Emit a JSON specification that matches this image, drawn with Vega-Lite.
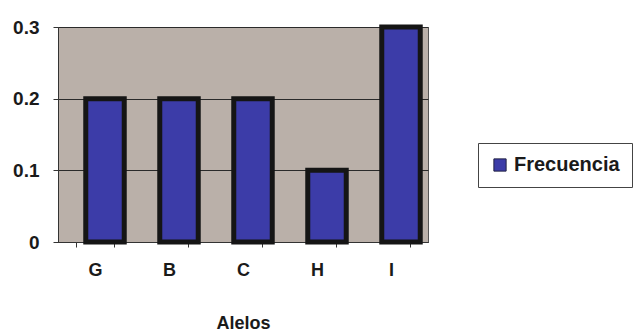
{
  "$schema": "https://vega.github.io/schema/vega-lite/v6.json",
  "autosize": "none",
  "width": 370,
  "height": 215,
  "padding": {"left": 58, "top": 27, "right": 215, "bottom": 92},
  "background": "#ffffff",
  "config": {
    "font": "Liberation Sans",
    "view": {"fill": "#bab0a9", "stroke": "#555555", "strokeWidth": 1}
  },
  "data": {
    "values": [
      {"alelo": "G", "frecuencia": 0.2, "serie": "Frecuencia"},
      {"alelo": "B", "frecuencia": 0.2, "serie": "Frecuencia"},
      {"alelo": "C", "frecuencia": 0.2, "serie": "Frecuencia"},
      {"alelo": "H", "frecuencia": 0.1, "serie": "Frecuencia"},
      {"alelo": "I", "frecuencia": 0.3, "serie": "Frecuencia"}
    ]
  },
  "mark": {"type": "bar", "stroke": "#151515", "strokeWidth": 5, "xOffset": 10},
  "encoding": {
    "x": {
      "field": "alelo",
      "type": "nominal",
      "sort": null,
      "scale": {"paddingInner": 0.48, "paddingOuter": 0.24},
      "axis": {
        "title": "Alelos",
        "titleFontSize": 18,
        "titleFontWeight": "bold",
        "titlePadding": 35,
        "titleColor": "#1a1a1a",
        "labelFontSize": 18,
        "labelFontWeight": "bold",
        "labelColor": "#1a1a1a",
        "labelAngle": 0,
        "labelPadding": 14,
        "domainColor": "#333333",
        "tickColor": "#333333",
        "tickSize": 5,
        "tickBand": "extent",
        "grid": false
      }
    },
    "y": {
      "field": "frecuencia",
      "type": "quantitative",
      "scale": {"domain": [0, 0.3], "nice": false},
      "axis": {
        "title": null,
        "values": [0, 0.1, 0.2, 0.3],
        "format": ".1~f",
        "labelFontSize": 19,
        "labelFontWeight": "bold",
        "labelColor": "#1a1a1a",
        "labelPadding": 14,
        "domainColor": "#333333",
        "tickColor": "#333333",
        "tickSize": 5,
        "gridColor": "#2a2a2a",
        "gridWidth": 1
      }
    },
    "color": {
      "field": "serie",
      "type": "nominal",
      "scale": {"range": ["#3c3ca8"]},
      "legend": {
        "title": null,
        "orient": "none",
        "legendX": 420,
        "legendY": 116,
        "symbolType": "square",
        "symbolSize": 150,
        "symbolStrokeColor": "#222244",
        "symbolStrokeWidth": 1,
        "labelFontSize": 20,
        "labelFontWeight": "bold",
        "labelColor": "#1a1a1a",
        "labelOffset": 4,
        "padding": 12,
        "strokeColor": "#444444",
        "fillColor": "#ffffff"
      }
    }
  }
}
